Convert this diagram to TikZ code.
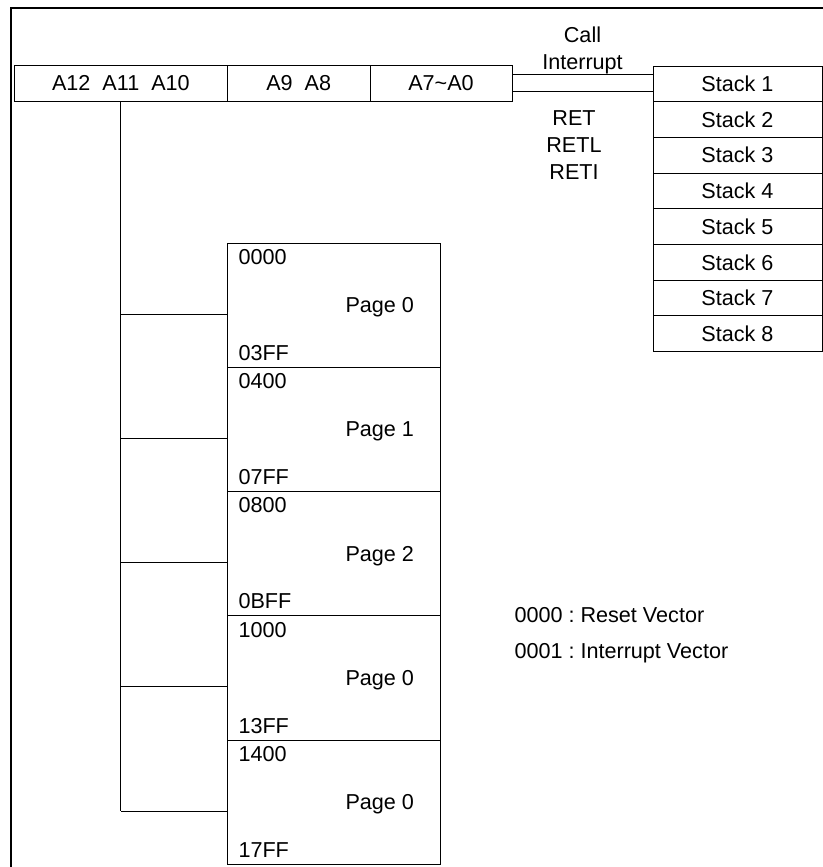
\documentclass[tikz,border=0pt]{standalone}
\usepackage{fontspec}
\setmainfont{Liberation Sans}
\usepackage{tikz}

\begin{document}
\begin{tikzpicture}[
        x=0.5pt, y=-0.5pt,
        line width=0.5pt,
        font=\fontsize{10.8}{13.35}\selectfont\frenchspacing,
        fld/.style={draw, inner sep=0pt, outer sep=0pt, minimum height=17.65pt, anchor=north west},
        stk/.style={draw, inner sep=0pt, outer sep=0pt, minimum width=84.5pt, minimum height=17.85pt, anchor=north west},
        pg/.style={draw, inner sep=0pt, outer sep=0pt, minimum width=106.6pt, minimum height=62.1pt, anchor=north west},
        addr/.style={inner sep=0pt}
    ]

    \clip (0,0) rectangle (823,867);

    % frame
    \draw[line width=1.2pt] (11, 900) |- (860, 8);

    % address fields
    \node[fld, minimum width=106.6pt] (abox) at (14.3, 65.7) {A12\ \ A11\ \ A10};
    \node[fld, minimum width=71.25pt] (bbox) at (227.5, 65.7) {A9\ \ A8};
    \node[fld, minimum width=71pt] (cbox) at (370, 65.7) {A7\textasciitilde A0};

    % stack levels
    \foreach \i in {1,...,8} {
        \node[stk] (s\i) at (653, {66+35.7*(\i-1)}) {Stack \i};
    }

    % link to stack
    \draw ([yshift=4.2pt]cbox.east) -- ([yshift=4.2pt]cbox.east -| s1.west);
    \draw ([yshift=-4.2pt]cbox.east) -- ([yshift=-4.2pt]cbox.east -| s1.west);
    \node[addr, align=center] (callLbl) at (582.5, 50.4) {Call\\Interrupt};
    \node[addr, align=center] (retLbl) at (574, 144.9) {RET\\RETL\\RETI};

    % program pages
    \foreach \lo/\hi/\n [count=\k from 0] in {0000/03FF/0, 0400/07FF/1, 0800/0BFF/2, 1000/13FF/0, 1400/17FF/0} {
        \node[pg] (p\k) at (227.7, {243.3+124.2*\k}) {};
        \node[addr, anchor=west] (lo\k) at ([xshift=5.15pt, yshift=-6.85pt]p\k.north west) {\lo};
        \node[addr, anchor=west] (hi\k) at ([xshift=5.15pt, yshift=7.25pt]p\k.south west) {\hi};
        \node[addr, anchor=base west] (pn\k) at ([xshift=58.65pt, yshift=-34.7pt]p\k.north west) {Page \n};
        \coordinate (t\k) at ([yshift=-35.5pt]p\k.north west);
        \draw (t\k) -- (t\k -| abox.south);
    }

    % page select
    \draw (abox.south) -- (abox.south |- t4);

    % vectors
    \node[addr, align=left, anchor=west, font=\fontsize{10.8}{18}\selectfont\frenchspacing] (vecLbl) at (514, 635.2) {
        0000 : Reset Vector\\
        0001 : Interrupt Vector
    };

\end{tikzpicture}
\end{document}
